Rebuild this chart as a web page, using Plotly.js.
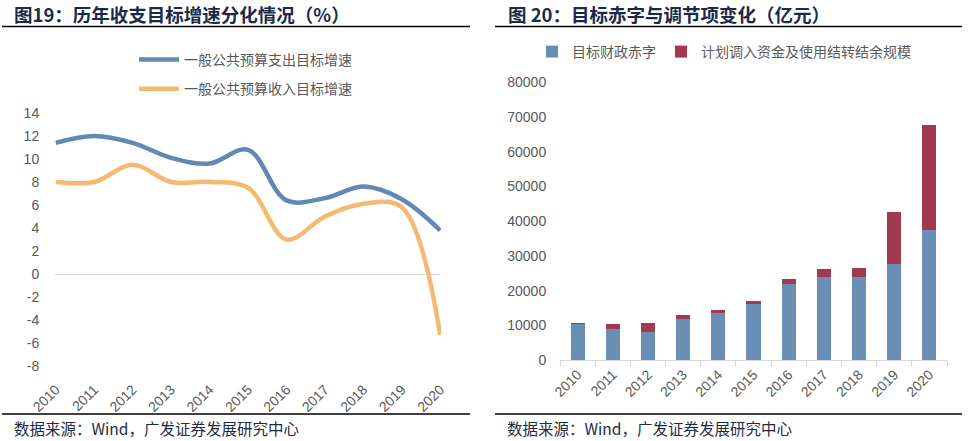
<!DOCTYPE html>
<html>
<head>
<meta charset="utf-8">
<script src="https://cdn.plot.ly/plotly-3.0.1.min.js"></script>
<style>html,body{margin:0;padding:0;background:#fff;}#chart{width:974px;height:441px;}</style>
</head>
<body>
<div id="chart"></div>
<script>
var years = ["2010","2011","2012","2013","2014","2015","2016","2017","2018","2019","2020"];
var expenditureGrowth = [11.4, 12.0, 11.4, 10.1, 9.6, 10.8, 6.4, 6.6, 7.6, 6.5, 3.8];
var revenueGrowth = [8.0, 8.0, 9.5, 8.0, 8.0, 7.5, 3.0, 5.0, 6.1, 5.8, -5.3];
var deficitTarget = [10500, 9000, 8000, 11900, 13500, 16200, 21800, 23800, 23800, 27600, 37600];
var adjustFunds = [300, 1400, 2700, 1100, 850, 800, 1500, 2400, 2700, 15000, 30000];
var leftTickVals = [-8, -6, -4, -2, 0, 2, 4, 6, 8, 10, 12, 14];
var leftTickText = ["-8", "-6", "-4", "-2", "0", "2", "4", "6", "8", "10", "12", "14"];
var rightTickVals = [0, 10000, 20000, 30000, 40000, 50000, 60000, 70000, 80000];
var rightTickText = ["0", "10000", "20000", "30000", "40000", "50000", "60000", "70000", "80000"];
var leftTitle = "图19：历年收支目标增速分化情况（%）";
var rightTitle = "图 20：目标赤字与调节项变化（亿元）";
var sourceText = "数据来源：Wind，广发证券发展研究中心";
var nameExp = "一般公共预算支出目标增速";
var nameRev = "一般公共预算收入目标增速";
var nameDef = "目标财政赤字";
var nameAdj = "计划调入资金及使用结转结余规模";

var W = 974, H = 441;
function fx(px){return px/W;}
function fy(py){return 1-py/H;}

var cjk = "Noto Sans CJK SC, Liberation Sans, Arial, sans-serif";
var tickFont = {family: "Liberation Sans, Arial, sans-serif", size: 14, color: "#595959"};

var traces = [
  {x: years, y: expenditureGrowth, name: nameExp, type: "scatter", mode: "lines",
   line: {color: "#6189b4", width: 4.5, shape: "spline", smoothing: 1.0},
   xaxis: "x", yaxis: "y", legend: "legend", legendgroup: "a"},
  {x: years, y: revenueGrowth, name: nameRev, type: "scatter", mode: "lines",
   line: {color: "#f4ba72", width: 4.5, shape: "spline", smoothing: 1.0},
   xaxis: "x", yaxis: "y", legend: "legend", legendgroup: "b"},
  {x: years, y: deficitTarget, name: nameDef, type: "bar",
   marker: {color: "#6a8fb6"}, width: 0.4,
   xaxis: "x2", yaxis: "y2", legend: "legend2"},
  {x: years, y: adjustFunds, name: nameAdj, type: "bar",
   marker: {color: "#a3394f"}, width: 0.4,
   xaxis: "x2", yaxis: "y2", legend: "legend2"}
];

var layout = {
  width: W, height: H,
  margin: {l: 0, r: 0, t: 0, b: 0},
  paper_bgcolor: "#fff", plot_bgcolor: "rgba(0,0,0,0)",
  barmode: "stack",
  showlegend: true,
  xaxis: {domain: [fx(55), fx(441)], type: "category", range: [-0.02, 10.02],
    tickangle: -45, tickfont: tickFont, showgrid: false, zeroline: false, showline: false,
    ticks: "outside", ticklen: 9, tickcolor: "rgba(0,0,0,0)", anchor: "y", fixedrange: true},
  yaxis: {domain: [fy(366), fy(113)], range: [-8, 14], tickmode: "array",
    tickvals: leftTickVals, ticktext: leftTickText, tickfont: tickFont,
    showgrid: false, zeroline: true, zerolinecolor: "#d9d9d9", zerolinewidth: 1,
    showline: false, ticks: "outside", ticklen: 12, tickcolor: "rgba(0,0,0,0)", anchor: "x"},
  xaxis2: {domain: [fx(560), fx(947)], type: "category", range: [-0.5, 10.5],
    tickangle: -45, tickfont: tickFont, showgrid: false, zeroline: false,
    showline: true, linecolor: "#d9d9d9", linewidth: 1,
    ticks: "outside", tickson: "boundaries", ticklen: 5, tickcolor: "#d9d9d9", anchor: "y2"},
  yaxis2: {domain: [fy(360), fy(82.4)], range: [0, 80000], tickmode: "array",
    tickvals: rightTickVals, ticktext: rightTickText, tickfont: tickFont,
    showgrid: false, zeroline: false, showline: false,
    ticks: "outside", ticklen: 10, tickcolor: "rgba(0,0,0,0)", anchor: "x2"},
  legend: {x: fx(134), y: fy(44), xanchor: "left", yanchor: "top", orientation: "v",
    font: {family: cjk, size: 14, color: "#595959"}, tracegroupgap: 8,
    itemwidth: 40, bgcolor: "rgba(0,0,0,0)"},
  legend2: {x: fx(532), y: fy(36), xanchor: "left", yanchor: "top", orientation: "h",
    traceorder: "normal",
    font: {family: cjk, size: 14, color: "#595959"}, itemwidth: 30,
    bgcolor: "rgba(0,0,0,0)"},
  shapes: [
    {type: "line", xref: "paper", yref: "paper", x0: fx(2), x1: fx(470), y0: fy(26.5), y1: fy(26.5), line: {color: "#000", width: 1.5}},
    {type: "line", xref: "paper", yref: "paper", x0: fx(495), x1: fx(962), y0: fy(26.5), y1: fy(26.5), line: {color: "#000", width: 1.5}},
    {type: "line", xref: "paper", yref: "paper", x0: fx(2), x1: fx(470), y0: fy(414), y1: fy(414), line: {color: "#000", width: 1.5}},
    {type: "line", xref: "paper", yref: "paper", x0: fx(495), x1: fx(962), y0: fy(414), y1: fy(414), line: {color: "#000", width: 1.5}}
  ],
  annotations: [
    {text: "<b>" + leftTitle + "</b>", xref: "paper", yref: "paper", x: fx(12), y: fy(14), xanchor: "left", yanchor: "middle", showarrow: false,
     font: {family: cjk, size: 18.5, color: "#1b2a4a"}},
    {text: "<b>" + rightTitle + "</b>", xref: "paper", yref: "paper", x: fx(506), y: fy(14), xanchor: "left", yanchor: "middle", showarrow: false,
     font: {family: cjk, size: 18.5, color: "#1b2a4a"}},
    {text: sourceText, xref: "paper", yref: "paper", x: fx(12), y: fy(428), xanchor: "left", yanchor: "middle", showarrow: false,
     font: {family: cjk, size: 15.5, color: "#1f2a44"}},
    {text: sourceText, xref: "paper", yref: "paper", x: fx(505), y: fy(428), xanchor: "left", yanchor: "middle", showarrow: false,
     font: {family: cjk, size: 15.5, color: "#1f2a44"}}
  ]
};

Plotly.newPlot("chart", traces, layout, {displayModeBar: false, staticPlot: true});
</script>
</body>
</html>
